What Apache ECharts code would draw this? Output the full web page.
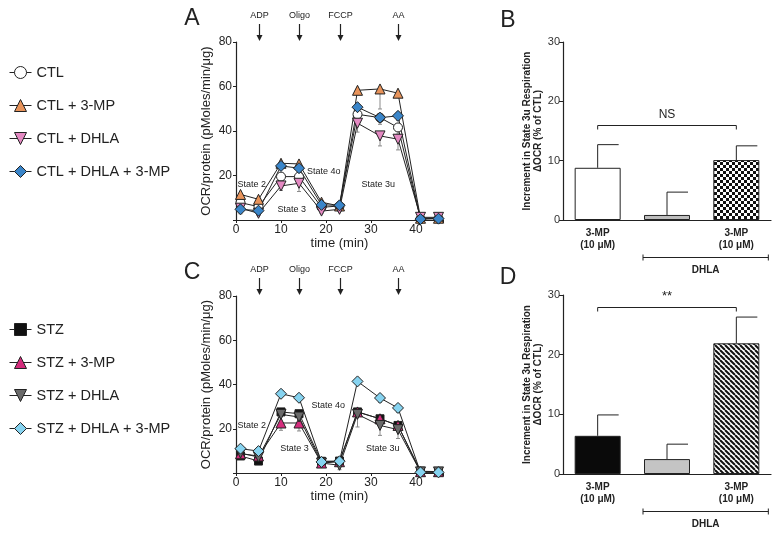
<!DOCTYPE html>
<html><head><meta charset="utf-8">
<script src="https://cdn.jsdelivr.net/npm/echarts@6/dist/echarts.min.js"></script>
<style>html,body{margin:0;padding:0;background:#fff}#c{width:780px;height:537px}</style>
</head><body><div id="c"></div>
<script>
// ---- data ----
const time = [1, 5, 10, 14, 19, 23, 27, 32, 36, 41, 45];
const xTicks = [0, 10, 20, 30, 40];
const injections = ['ADP', 'Oligo', 'FCCP', 'AA'];
const injectionTimes = [5, 14, 23, 36];

const ctlNames = ['CTL', 'CTL + 3-MP', 'CTL + DHLA', 'CTL + DHLA + 3-MP'];
const ctl        = [7.8, 6.0, 19.5, 19.5, 5.7, 6.3, 47.5, 46.0, 41.6, 0.5, 0.7];
const ctl3mp     = [11.5, 9.3, 25.5, 25.2, 8.0, 6.3, 58.3, 58.9, 57.0, 0.8, 0.8];
const ctlDhla    = [5.3, 3.0, 15.3, 16.5, 4.0, 4.8, 43.5, 37.8, 36.3, 1.2, 1.2];
const ctlDhla3mp = [4.8, 4.2, 24.3, 23.3, 6.8, 6.6, 50.7, 46.0, 46.8, 0.4, 0.6];
const ctlErr        = [2, 2, 2, 2, 1, 1, 3, 3, 3, 0, 0];
const ctl3mpErr     = [1, 1, 1, 1, 1, 1, 2, 9, 1, 0, 0];
const ctlDhlaErr    = [1, 1, 2, 3.7, 1, 1, 4, 4.5, 4.8, 0, 0];
const ctlDhla3mpErr = [2, 1, 1, 1, 1, 1, 2, 2, 2, 0, 0];

const stzNames = ['STZ', 'STZ + 3-MP', 'STZ + DHLA', 'STZ + DHLA + 3-MP'];
const stz        = [7.7, 5.4, 27.6, 26.8, 5.3, 5.4, 27.6, 24.5, 21.5, 0.8, 0.6];
const stz3mp     = [8.7, 7.7, 22.6, 22.6, 4.5, 5.1, 27.6, 24.5, 21.5, 0.6, 0.6];
const stzDhla    = [9.0, 7.2, 26.5, 25.3, 4.5, 3.5, 26.5, 21.5, 19.6, 0.5, 0.5];
const stzDhla3mp = [11.0, 9.9, 35.8, 34.0, 5.0, 5.3, 41.4, 33.9, 29.4, 0.3, 0.3];
const stzErr        = [1, 1, 1, 1, 1, 1, 2, 2, 2, 0, 0];
const stz3mpErr     = [1, 1, 3.3, 3.6, 1, 1, 2, 2, 2, 0, 0];
const stzDhlaErr    = [1, 1, 1, 1, 1, 2, 5.7, 4.5, 4.0, 0, 0];
const stzDhla3mpErr = [1, 1, 1, 1, 1, 1, 1, 2, 2, 0, 0];

const stateLabelsA = [['State 2', 3.5, 15.8], ['State 3', 12.4, 4.8], ['State 4o', 19.5, 21.6], ['State 3u', 31.6, 15.8]];
const stateLabelsC = [['State 2', 3.5, 21.5], ['State 3', 13.0, 11.0], ['State 4o', 20.5, 30.6], ['State 3u', 32.6, 11.0]];

const barCats = ['3-MP\n(10 μM)', '', '3-MP\n(10 μM)'];
const bValues = [8.8, 0.85, 10.1];
const bUpper  = [12.7, 4.7, 12.5];
const dValues = [6.4, 2.5, 21.9];
const dUpper  = [9.9, 5.0, 26.3];
const bSig = 'NS', bSigY = 16;
const dSig = '**', dSigY = 28;
const groupLabel = 'DHLA';

// ---- styling helpers ----
const font = "'Liberation Sans', Arial, Helvetica, sans-serif";
const ink = '#222';

function checker() {
  const c = document.createElement('canvas'); c.width = c.height = 6;
  const g = c.getContext('2d');
  g.fillStyle = '#fff'; g.fillRect(0, 0, 6, 6);
  g.fillStyle = '#111'; g.fillRect(0, 0, 3, 3); g.fillRect(3, 3, 3, 3);
  return c;
}
function stripes() {
  const s = 5;
  const c = document.createElement('canvas'); c.width = c.height = s;
  const g = c.getContext('2d');
  g.fillStyle = '#fff'; g.fillRect(0, 0, s, s);
  g.strokeStyle = '#111'; g.lineWidth = 2;
  for (const o of [-s, 0, s]) { g.beginPath(); g.moveTo(o, 0); g.lineTo(o + s, s); g.stroke(); }
  return c;
}

function lineSeries(name, vals, fill, symbol, size, rotate, gi) {
  return {
    type: 'line', name, xAxisIndex: gi, yAxisIndex: gi,
    data: time.map((t, i) => [t, vals[i]]),
    symbol, symbolSize: size, symbolRotate: rotate,
    lineStyle: { color: ink, width: 1 },
    itemStyle: { color: fill, borderColor: ink, borderWidth: 1 },
    z: 3, animation: false
  };
}
function errSeries(vals, errs, gi) {
  return {
    type: 'custom', xAxisIndex: gi, yAxisIndex: gi, z: 2, silent: true, animation: false,
    data: time.map((t, i) => [t, vals[i], vals[i] - errs[i]]).filter((d, i) => errs[i] > 0),
    renderItem(params, api) {
      const p1 = api.coord([api.value(0), api.value(1)]);
      const p2 = api.coord([api.value(0), api.value(2)]);
      const st = { stroke: '#8a8a8a', lineWidth: 1 };
      return { type: 'group', children: [
        { type: 'line', shape: { x1: p1[0], y1: p1[1], x2: p2[0], y2: p2[1] }, style: st },
        { type: 'line', shape: { x1: p2[0] - 2, y1: p2[1], x2: p2[0] + 2, y2: p2[1] }, style: st }
      ] };
    }
  };
}
function barErrSeries(vals, upper, gi) {
  return {
    type: 'custom', xAxisIndex: gi, yAxisIndex: gi, z: 1, silent: true, animation: false,
    data: vals.map((v, i) => [i, v, upper[i]]),
    renderItem(params, api) {
      const p1 = api.coord([api.value(0), api.value(1)]);
      const p2 = api.coord([api.value(0), api.value(2)]);
      const st = { stroke: ink, lineWidth: 1 };
      return { type: 'group', children: [
        { type: 'line', shape: { x1: p1[0], y1: p1[1], x2: p2[0], y2: p2[1] }, style: st },
        { type: 'line', shape: { x1: p2[0], y1: p2[1], x2: p2[0] + 21, y2: p2[1] }, style: st }
      ] };
    }
  };
}

function lineX(gi) {
  return {
    type: 'value', gridIndex: gi, min: 0, max: 46, interval: 10,
    axisLine: { show: true, lineStyle: { color: ink, width: 1.2 } },
    axisTick: { show: true, length: 3, lineStyle: { color: ink } },
    splitLine: { show: false },
    axisLabel: { fontFamily: font, fontSize: 12, color: ink, margin: 4,
      formatter: v => xTicks.includes(v) ? String(v) : '' },
    name: 'time (min)', nameLocation: 'middle', nameGap: 15,
    nameTextStyle: { fontFamily: font, fontSize: 13, color: ink }
  };
}
function lineY(gi) {
  return {
    type: 'value', gridIndex: gi, min: 0, max: 80, interval: 20,
    axisLine: { show: true, lineStyle: { color: ink, width: 1.2 } },
    axisTick: { show: true, length: 3, lineStyle: { color: ink } },
    splitLine: { show: false },
    axisLabel: { fontFamily: font, fontSize: 12, color: ink, margin: 4, formatter: v => v === 0 ? '' : String(v) },
    name: 'OCR/protein (pMoles/min/μg)', nameLocation: 'middle', nameGap: 23,
    nameTextStyle: { fontFamily: font, fontSize: 13, color: ink }
  };
}
function barX(gi) {
  return {
    type: 'category', gridIndex: gi, data: barCats,
    axisLine: { show: true, lineStyle: { color: ink, width: 1.2 } },
    axisTick: { show: false },
    axisLabel: { fontFamily: font, fontSize: 10, fontWeight: 'bold', color: ink, lineHeight: 12, margin: 7, interval: 0 }
  };
}
function barY(gi) {
  return {
    type: 'value', gridIndex: gi, min: 0, max: 30, interval: 10,
    axisLine: { show: true, lineStyle: { color: ink, width: 1.2 } },
    axisTick: { show: true, length: 4, lineStyle: { color: ink } },
    splitLine: { show: false },
    axisLabel: { fontFamily: font, fontSize: 11, color: '#333', margin: 3 },
    name: 'Increment in State 3u Respiration\nΔOCR (% of CTL)', nameLocation: 'middle', nameGap: 19,
    nameTextStyle: { fontFamily: font, fontSize: 10, fontWeight: 'bold', color: ink, lineHeight: 11 }
  };
}
function barSeries(vals, fills, gi) {
  return {
    type: 'bar', xAxisIndex: gi, yAxisIndex: gi, barWidth: 46, z: 2, animation: false,
    data: vals.map((v, i) => ({ value: v, itemStyle: { color: fills[i], borderColor: ink, borderWidth: 1 } }))
  };
}

const legendCommon = {
  orient: 'vertical', left: 9, itemWidth: 22, itemHeight: 15, itemGap: 18, padding: 0,
  lineStyle: { width: 1 }, itemStyle: { borderWidth: 1 },
  textStyle: { fontFamily: font, fontSize: 14.5, color: ink, lineHeight: 15 }
};

const chart = echarts.init(document.getElementById('c'));
chart.setOption({
  backgroundColor: '#fff',
  animation: false,
  grid: [
    { left: 236, top: 42, width: 207, height: 178 },
    { left: 236, top: 296, width: 207, height: 177 },
    { left: 563, top: 42, width: 208, height: 178 },
    { left: 563, top: 295, width: 208, height: 179 }
  ],
  xAxis: [lineX(0), lineX(1), barX(2), barX(3)],
  yAxis: [lineY(0), lineY(1), barY(2), barY(3)],
  legend: [
    Object.assign({}, legendCommon, { top: 65, data: ctlNames }),
    Object.assign({}, legendCommon, { top: 322, data: stzNames })
  ],
  series: [
    errSeries(ctl, ctlErr, 0), errSeries(ctl3mp, ctl3mpErr, 0),
    errSeries(ctlDhla, ctlDhlaErr, 0), errSeries(ctlDhla3mp, ctlDhla3mpErr, 0),
    lineSeries(ctlNames[0], ctl, '#ffffff', 'circle', 9, 0, 0),
    lineSeries(ctlNames[1], ctl3mp, '#e8935a', 'triangle', 10, 0, 0),
    lineSeries(ctlNames[2], ctlDhla, '#e489c2', 'triangle', 10, 180, 0),
    lineSeries(ctlNames[3], ctlDhla3mp, '#3a85c9', 'diamond', 11, 0, 0),
    errSeries(stz, stzErr, 1), errSeries(stz3mp, stz3mpErr, 1),
    errSeries(stzDhla, stzDhlaErr, 1), errSeries(stzDhla3mp, stzDhla3mpErr, 1),
    lineSeries(stzNames[0], stz, '#111111', 'rect', 8, 0, 1),
    lineSeries(stzNames[1], stz3mp, '#d42c7c', 'triangle', 10, 0, 1),
    lineSeries(stzNames[2], stzDhla, '#6a6a6a', 'triangle', 10, 180, 1),
    lineSeries(stzNames[3], stzDhla3mp, '#86d3f0', 'diamond', 11, 0, 1),
    barErrSeries(bValues, bUpper, 2),
    barSeries(bValues, ['#ffffff', '#bdbdbd', { image: checker(), repeat: 'repeat' }], 2),
    barErrSeries(dValues, dUpper, 3),
    barSeries(dValues, ['#0a0a0a', '#c4c4c4', { image: stripes(), repeat: 'repeat' }], 3)
  ]
});

// ---- annotations positioned through the axes ----
const px = (gi, pt) => chart.convertToPixel({ gridIndex: gi }, pt);
const g = [];
const txt = (x, y, text, opts) => g.push({ type: 'text', x, y, silent: true,
  style: Object.assign({ text, fontFamily: font, fontSize: 9, fill: ink, align: 'center', verticalAlign: 'middle' }, opts || {}) });
const seg = (x1, y1, x2, y2, w) => g.push({ type: 'line', silent: true, shape: { x1, y1, x2, y2 }, style: { stroke: ink, lineWidth: w || 1 } });

[0, 1].forEach(gi => {
  injectionTimes.forEach((t, i) => {
    const p = px(gi, [t, 80]);
    const x = Math.round(p[0]) + 0.5, top = p[1];
    txt(x, top - 26, injections[i], { fontSize: 9 });
    seg(x, top - 18, x, top - 6, 1.2);
    g.push({ type: 'polygon', silent: true, shape: { points: [[x - 3, top - 7], [x + 3, top - 7], [x, top - 1]] }, style: { fill: ink } });
  });
  (gi === 0 ? stateLabelsA : stateLabelsC).forEach(s => {
    const p = px(gi, [s[1], s[2]]);
    txt(p[0], p[1], s[0], { fontSize: 9 });
  });
});

function barAnnot(gi, sig, sigY) {
  const a = px(gi, [0, sigY]), b = px(gi, [2, sigY]);
  const y = Math.round(a[1]) + 0.5;
  seg(a[0], y, b[0], y); seg(a[0], y, a[0], y + 4); seg(b[0], y, b[0], y + 4);
  txt((a[0] + b[0]) / 2, y - 11, sig, { fontSize: sig === 'NS' ? 12 : 13 });
  const c1 = px(gi, [1, 0]), c2 = px(gi, [2, 0]);
  const by = Math.round(c1[1]) + 37.5;
  const l = c1[0] - 24, r = c2[0] + 32;
  seg(l, by, r, by); seg(l, by - 3, l, by + 3); seg(r, by - 3, r, by + 3);
  txt((l + r) / 2, by + 13, groupLabel, { fontSize: 10, fontWeight: 'bold' });
}
barAnnot(2, bSig, bSigY);
barAnnot(3, dSig, dSigY);

txt(192, 19, 'A', { fontSize: 23 });
txt(508, 21, 'B', { fontSize: 23 });
txt(192, 273, 'C', { fontSize: 23 });
txt(508, 278, 'D', { fontSize: 23 });

chart.setOption({ graphic: g });
</script></body></html>
